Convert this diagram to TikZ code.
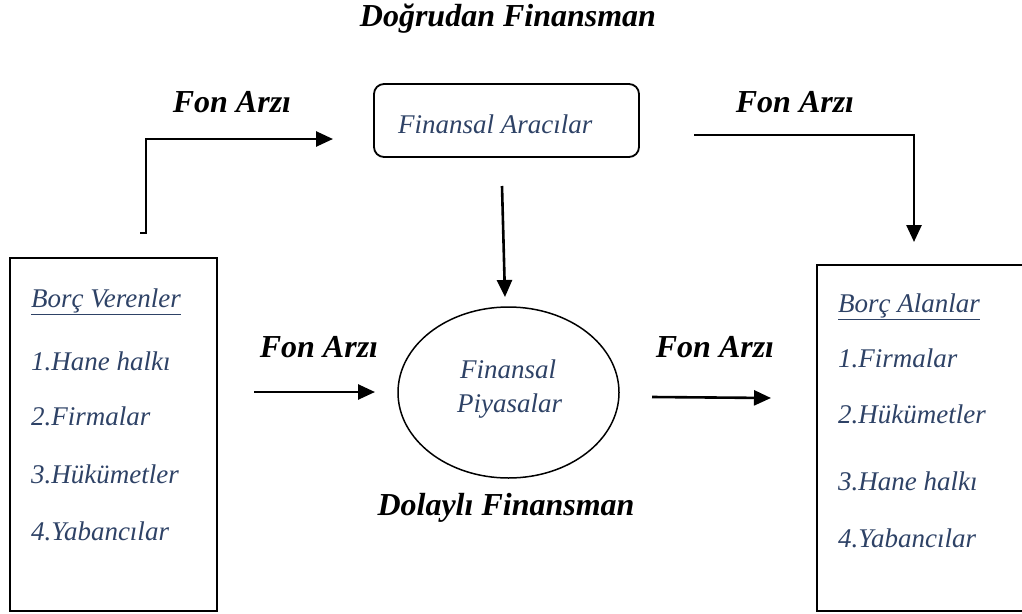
\documentclass[tikz,border=0pt]{standalone}
\usepackage{fontspec}
\setmainfont{Liberation Serif}
\usetikzlibrary{shapes.geometric, arrows.meta}
\definecolor{listblue}{RGB}{46,66,102}

\begin{document}
\begin{tikzpicture}[x=1pt, y=-1pt,
    head/.style={font=\fontsize{32}{38}\selectfont\bfseries\itshape, inner sep=0pt, anchor=base},
    item/.style={font=\fontsize{27}{32}\selectfont\itshape, text=listblue, inner sep=0pt, anchor=base west},
    flow/.style={line width=2.6pt, -{Triangle[length=17pt, width=15pt]}},
    party/.style={draw, rectangle, line width=1.8pt, inner sep=0pt, outer sep=0pt}]
    \useasboundingbox (0,0) rectangle (1022,613);
    \clip (0,0) rectangle (1022,613);
    % titles
    \node[head] (direct) at (508,26) {Doğrudan Finansman};
    \node[head] (indirect) at (506,515) {Dolaylı Finansman};
    % lender and borrower boxes
    \node[party, minimum width=207pt, minimum height=353pt] (lenders) at (113.5,434.5) {};
    \node[party, minimum width=223pt, minimum height=346pt] (borrowers) at (928.5,438) {};
    \node[item] (lend0) at (31,307) {\underline{Borç Verenler}};
    \node[item] (lend1) at (31,370) {1.Hane halkı};
    \node[item] (lend2) at (31,425) {2.Firmalar};
    \node[item] (lend3) at (31,483) {3.Hükümetler};
    \node[item] (lend4) at (31,540) {4.Yabancılar};
    \node[item] (borr0) at (838,312) {\underline{Borç Alanlar}};
    \node[item] (borr1) at (838,367) {1.Firmalar};
    \node[item] (borr2) at (838,423) {2.Hükümetler};
    \node[item] (borr3) at (838,490) {3.Hane halkı};
    \node[item] (borr4) at (838,547) {4.Yabancılar};
    % intermediaries and markets
    \node[party, rounded corners=10pt, minimum width=265pt, minimum height=73pt] (aracilar) at (506.5,120.5) {};
    \node[item] (aracilar-txt) at (398,133) {Finansal Aracılar};
    \node[draw, ellipse, line width=1.5pt, minimum width=221pt, minimum height=171pt, inner sep=0pt] (piyasa) at (508.5,392.5) {};
    \node[item, anchor=base] (piyasa-1) at (508,378) {Finansal};
    \node[item, anchor=base] (piyasa-2) at (509.5,412) {Piyasalar};
    % fund supply labels
    \node[head] (fon1) at (232,112) {Fon Arzı};
    \node[head] (fon2) at (795,112) {Fon Arzı};
    \node[head] (fon3) at (319,357) {Fon Arzı};
    \node[head] (fon4) at (715,357) {Fon Arzı};
    % arrow ends
    \coordinate (a1s) at (140,233);
    \coordinate (a1k) at (146,139);
    \coordinate (a1e) at (333,139);
    \coordinate (a2s) at (694,135);
    \coordinate (a2k) at (914,135);
    \coordinate (a2e) at (914,242);
    \coordinate (a3s) at (502,186);
    \coordinate (a3e) at (505,297);
    \coordinate (a4s) at (254,392);
    \coordinate (a4e) at (375,392);
    \coordinate (a5s) at (652,397);
    \coordinate (a5e) at (771,398);
    % arrows
    \draw[flow] (a1s) -- (a1s -| a1k) -- (a1k) -- (a1e);
    \draw[flow] (a2s) -- (a2k) -- (a2e);
    \draw[flow] (a3s) -- (a3e);
    \draw[flow] (a4s) -- (a4e);
    \draw[flow] (a5s) -- (a5e);
\end{tikzpicture}
\end{document}
